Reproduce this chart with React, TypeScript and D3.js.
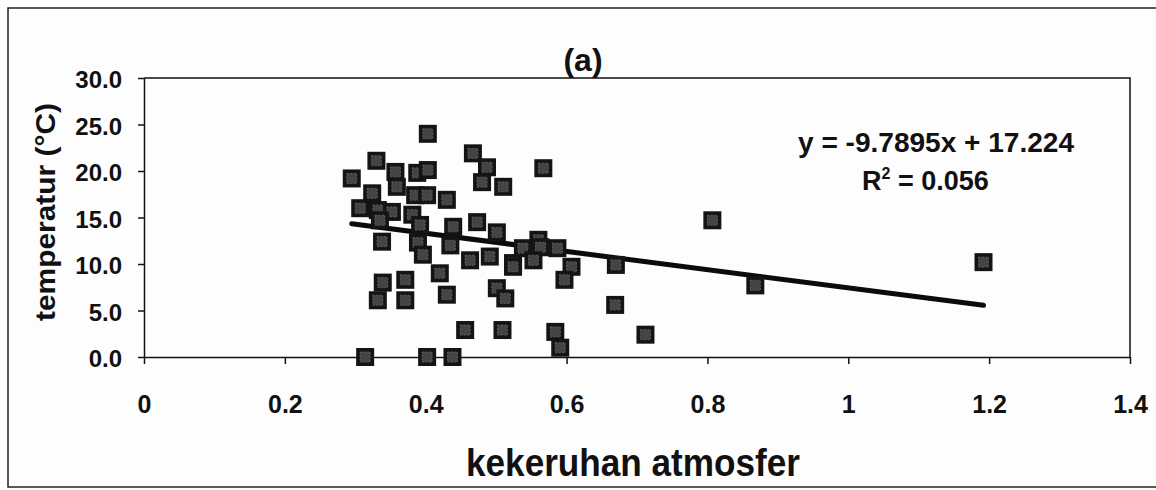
import React, { useEffect, useRef } from "react";
import * as d3 from "d3";

// kekeruhan atmosfer (x) vs temperatur in °C (y)
const kekeruhan = [
  0.403, 0.330, 0.295, 0.357, 0.388, 0.403, 0.467, 0.487, 0.480, 0.510,
  0.567, 0.359, 0.324, 0.385, 0.402, 0.430, 0.307, 0.332, 0.352, 0.381,
  0.335, 0.392, 0.439, 0.473, 0.501, 0.338, 0.389, 0.435, 0.396, 0.463,
  0.491, 0.524, 0.560, 0.563, 0.538, 0.587, 0.553, 0.524, 0.607, 0.420,
  0.597, 0.501, 0.513, 0.339, 0.371, 0.332, 0.371, 0.430, 0.456, 0.509,
  0.584, 0.591, 0.314, 0.402, 0.438, 0.670, 0.669, 0.712, 0.807, 0.868,
  1.192,
];
const temperatur = [
  24.0, 21.1, 19.2, 19.9, 19.8, 20.1, 21.9, 20.4, 18.8, 18.3,
  20.3, 18.3, 17.6, 17.4, 17.4, 16.9, 16.0, 15.8, 15.6, 15.3,
  14.7, 14.2, 14.0, 14.5, 13.4, 12.4, 12.3, 12.0, 11.0, 10.4,
  10.8, 10.1, 12.6, 11.8, 11.7, 11.7, 10.4, 9.7, 9.7, 9.0,
  8.3, 7.4, 6.3, 8.0, 8.3, 6.1, 6.1, 6.7, 2.9, 2.9,
  2.7, 1.0, 0.0, 0.0, 0.0, 9.9, 5.6, 2.4, 14.7, 7.7,
  10.2,
];

const xTickValues = [0, 0.2, 0.4, 0.6, 0.8, 1, 1.2, 1.4];
const yTickValues = [0, 5, 10, 15, 20, 25, 30];

const slope = -9.7895;
const intercept = 17.224;
const equationLabel = "y = -9.7895x + 17.224";
const r2Value = "0.056";

const W = 1156;
const H = 490;
const FONT = "Arial, 'Liberation Sans', Helvetica, sans-serif";

const App: React.FC = () => {
  const svgRef = useRef<SVGSVGElement | null>(null);

  useEffect(() => {
    const svg = d3.select(svgRef.current);
    svg.selectAll("*").remove();

    const x = d3.scaleLinear().domain([0, 1.4]).range([144, 1130]);
    const y = d3.scaleLinear().domain([0, 30]).range([357, 78]);

    svg.append("rect").attr("width", W).attr("height", H).attr("fill", "#fdfdfd");

    // outer frame of the scanned figure
    svg
      .append("rect")
      .attr("x", 8)
      .attr("y", 8)
      .attr("width", 1170)
      .attr("height", 479)
      .attr("fill", "none")
      .attr("stroke", "#222")
      .attr("stroke-width", 1.5);

    // plot box top and right
    svg
      .append("path")
      .attr("d", `M${x(0)},${y(30)}H${x(1.4)}V${y(0)}`)
      .attr("fill", "none")
      .attr("stroke", "#111")
      .attr("stroke-width", 1.5);

    const xAxis = svg
      .append("g")
      .attr("transform", `translate(0,${y(0)})`)
      .call(
        d3
          .axisBottom(x)
          .tickValues(xTickValues)
          .tickFormat((d) => String(d))
          .tickSize(7)
          .tickSizeOuter(0)
          .tickPadding(31)
      );

    const yAxis = svg
      .append("g")
      .attr("transform", `translate(${x(0)},0)`)
      .call(
        d3
          .axisLeft(y)
          .tickValues(yTickValues)
          .tickFormat(d3.format(".1f"))
          .tickSize(6)
          .tickSizeOuter(0)
          .tickPadding(16)
      );

    [xAxis, yAxis].forEach((g) => {
      g.select(".domain").attr("stroke", "#111").attr("stroke-width", 1.5);
      g.selectAll(".tick line").attr("stroke", "#111").attr("stroke-width", 1.5);
      g.selectAll("text")
        .attr("fill", "#111")
        .attr("font-family", FONT)
        .attr("font-weight", "bold");
    });
    xAxis.selectAll("text").attr("font-size", 25);
    yAxis.selectAll("text").attr("font-size", 24).attr("dy", "0.4em");

    // trend line over the range of the data
    const [x0, x1] = d3.extent(kekeruhan) as [number, number];
    const line = d3
      .line<number>()
      .x((d) => x(d))
      .y((d) => y(slope * d + intercept));
    svg
      .append("path")
      .attr("d", line([x0, x1]))
      .attr("stroke", "#0b0b0b")
      .attr("stroke-width", 5)
      .attr("stroke-linecap", "round")
      .attr("fill", "none");

    const pts = svg
      .append("g")
      .selectAll("g")
      .data(kekeruhan.map((k, i) => ({ k, t: temperatur[i] })))
      .join("g")
      .attr("transform", (d) => `translate(${x(d.k)},${y(d.t)})`);
    pts
      .append("rect")
      .attr("x", -9)
      .attr("y", -9)
      .attr("width", 18)
      .attr("height", 18)
      .attr("fill", "#141414");
    pts
      .append("rect")
      .attr("x", -5)
      .attr("y", -5)
      .attr("width", 10)
      .attr("height", 10)
      .attr("fill", "#444")
      .attr("stroke", "#6a6a6a")
      .attr("stroke-width", 0.8)
      .attr("stroke-dasharray", "2 1.5");

    // regression label
    svg
      .append("text")
      .attr("x", 936)
      .attr("y", 152)
      .attr("text-anchor", "middle")
      .attr("font-family", FONT)
      .attr("font-weight", "bold")
      .attr("font-size", 27)
      .attr("textLength", 276)
      .attr("lengthAdjust", "spacingAndGlyphs")
      .attr("fill", "#111")
      .text(equationLabel);

    const r2 = svg
      .append("text")
      .attr("x", 862)
      .attr("y", 190)
      .attr("font-family", FONT)
      .attr("font-weight", "bold")
      .attr("font-size", 27)
      .attr("fill", "#111");
    r2.append("tspan").text("R");
    r2.append("tspan").attr("font-size", 16).attr("dy", -11).text("2");
    r2.append("tspan").attr("dy", 11).text(` = ${r2Value}`);

    // title
    svg
      .append("text")
      .attr("x", 583)
      .attr("y", 71)
      .attr("text-anchor", "middle")
      .attr("font-family", FONT)
      .attr("font-weight", "bold")
      .attr("font-size", 32)
      .attr("fill", "#111")
      .text("(a)");

    // axis titles
    svg
      .append("text")
      .attr("x", 633)
      .attr("y", 476)
      .attr("text-anchor", "middle")
      .attr("font-family", FONT)
      .attr("font-weight", "bold")
      .attr("font-size", 38)
      .attr("textLength", 334)
      .attr("lengthAdjust", "spacingAndGlyphs")
      .attr("fill", "#111")
      .text("kekeruhan atmosfer");

    svg
      .append("text")
      .attr("transform", `translate(55,212) rotate(-90)`)
      .attr("text-anchor", "middle")
      .attr("font-family", FONT)
      .attr("font-weight", "bold")
      .attr("font-size", 28)
      .attr("textLength", 218)
      .attr("lengthAdjust", "spacingAndGlyphs")
      .attr("fill", "#111")
      .text("temperatur (°C)");
  }, []);

  return (
    <div style={{ position: "absolute", left: 0, top: 0 }}>
      <svg ref={svgRef} width={W} height={H} style={{ display: "block" }} />
    </div>
  );
};

export default App;
